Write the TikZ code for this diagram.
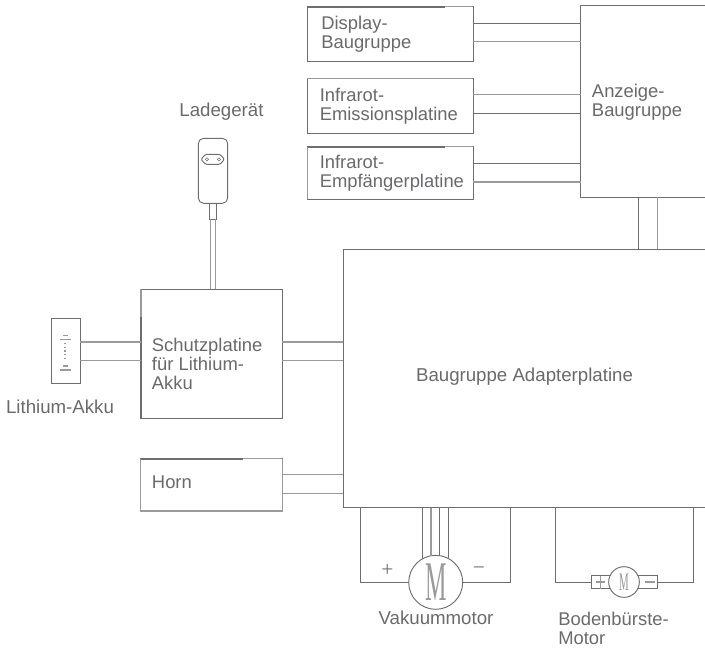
\documentclass[tikz,border=0pt]{standalone}
\usepackage{fontspec}
\setmainfont{Liberation Sans}
\newfontfamily\serifM{Liberation Serif}
\definecolor{ln}{HTML}{6E6E70}
\definecolor{lnl}{HTML}{9A9A9C}
\definecolor{tx}{HTML}{6A6A6C}
\tikzset{
  wire/.style={draw=ln,line width=0.7pt},
  wirel/.style={draw=lnl,line width=0.8pt},
  dark/.style={draw=ln,line width=1.3pt},
  box/.style={draw=ln,line width=0.7pt,fill=white,inner sep=0pt,outer sep=0pt,rectangle,anchor=north west},
  lab/.style={text=tx,font=\fontsize{13.8}{13.8}\selectfont,align=left,inner sep=0pt,anchor=west},
  labc/.style={text=tx,font=\fontsize{14}{14}\selectfont,inner sep=0pt},
  sign/.style={text=ln,font=\fontsize{16}{16}\serifM,inner sep=0pt},
  motor/.style={draw=ln,line width=0.7pt,fill=white,circle,inner sep=0pt,outer sep=0pt},
}
\newcommand{\bx}[5]{\node[box,minimum width={(#4-#2)*0.75pt},minimum height={(#5-#3)*0.75pt}] (#1) at (#2,#3) {};}
\begin{document}
\begin{tikzpicture}[x=0.75pt,y=-0.75pt]
\useasboundingbox (0,0) rectangle (705,647);
% boxes
\bx{disp}{307.3}{6.7}{473.3}{61.3}
\bx{emis}{307.3}{78.7}{473.3}{133.3}
\bx{empf}{307.7}{146.7}{473.3}{199.3}
\bx{anz}{580.7}{5.3}{720}{197.3}
\bx{adapt}{343.3}{249}{720}{507.5}
\bx{schutz}{141}{289}{282.3}{418.7}
\bx{akku}{51.3}{318.7}{80}{383.3}
\bx{horn}{140.7}{458.7}{282.3}{511}
% dark / light edges
\draw[dark] (307.3,6.7) -- (445,6.7);
\draw[wirel] (445,6.7) -- (473.3,6.7);
\draw[wirel] (307.3,78.7) -- (473.3,78.7);
\draw[dark] (307.7,146.7) -- (445,146.7);
\draw[wirel] (445,146.7) -- (473.3,146.7);
\draw[wirel] (307.7,146.7) -- (307.7,199.3);
\draw[dark] (141,316.7) -- (141,418.7);
\draw[wirel] (141,289) -- (141,316.7);
\draw[dark] (140.7,458.7) -- (242.7,458.7);
\draw[wirel] (242.7,458.7) -- (282.3,458.7);
\draw[wirel] (140.7,458.7) -- (140.7,511) -- (282.3,511) -- (282.3,458.7);
% connectors
\draw[wire] (disp.east |- 0,23.3) -- (anz.west |- 0,23.3);
\draw[wirel] (disp.east |- 0,41.7) -- (anz.west |- 0,41.7);
\draw[wirel] (emis.east |- 0,94.7) -- (anz.west |- 0,94.7);
\draw[wire] (emis.east |- 0,113.3) -- (anz.west |- 0,113.3);
\draw[wire] (empf.east |- 0,163.3) -- (anz.west |- 0,163.3);
\draw[wirel] (empf.east |- 0,182) -- (anz.west |- 0,182);
\draw[wire] (anz.south -| 638.7,0) -- (adapt.north -| 638.7,0);
\draw[wirel] (anz.south -| 657.3,0) -- (adapt.north -| 657.3,0);
\draw[wirel] (akku.east |- 0,342) -- (schutz.west |- 0,342);
\draw[wirel] (akku.east |- 0,360.7) -- (schutz.west |- 0,360.7);
\draw[wirel] (schutz.east |- 0,342) -- (adapt.west |- 0,342);
\draw[wirel] (schutz.east |- 0,360.7) -- (adapt.west |- 0,360.7);
\draw[wirel] (horn.east |- 0,474.7) -- (adapt.west |- 0,474.7);
\draw[wirel] (horn.east |- 0,493.7) -- (adapt.west |- 0,493.7);
% motors
\node[motor,minimum size=40.5pt] (vac) at (435.7,582.3) {};
\draw[wire] (adapt.south -| 360,0) |- (vac.west);
\draw[wire] (adapt.south -| 510.7,0) |- (vac.east);
\foreach \X/\Y/\C in {422.3/559/wire,431/555.7/wirel,439.7/555.6/wire,448.3/558.4/wire}{
  \draw[\C] (adapt.south -| \X,0) -- (\X,\Y);
}
\node[inner sep=0pt,text=lnl,font=\fontsize{42}{42}\serifM] (mv) at (435.7,582) {\scalebox{0.43}[1]{M}};
\node[sign] (pl) at (387.3,570.5) {+};
\node[sign] (mi) at (479,570.5) {−};
% small motor
\coordinate (bl) at (591.7,575.7);
\coordinate (br) at (657.7,588.7);
\draw[wire] (bl) rectangle (br);
\node[motor,minimum size=23pt] (brush) at (624,582) {};
\node[inner sep=0pt,text=lnl,font=\fontsize{19}{19}\serifM] (mb) at (624,582) {\scalebox{0.43}[1]{M}};
\draw[wire] (adapt.south -| 555,0) |- (bl |- brush);
\draw[wire] (adapt.south -| 693.7,0) |- (br |- brush);
\draw[wirel] (596,582) -- (605,582) (600.5,576) -- (600.5,588.5) (645,582) -- (655,582);
% charger
\draw[wire,rounded corners=4pt] (198.3,138.3) rectangle (227.7,203.3);
\draw[wire,rounded corners=1pt] (201,159.3) -- (205.5,154.3) -- (220,154.3) -- (224.5,159.3) -- (220,164.3) -- (205.5,164.3) -- cycle;
\draw[wire,line width=0.4pt] (207,159.3) circle (1.6) (219,159.3) circle (1.6);
\draw[wire] (209.3,203.3) rectangle (216.7,219.3);
\draw[wirel] (210.7,219.3) -- (210.7,289);
\draw[wirel] (215.3,219.3) -- (215.3,289);
% battery symbol
\draw[wirel] (62.7,335.7) -- (68,335.7) (59.5,339.5) -- (71,339.5) (62.7,366) -- (68,366) (59.5,370) -- (71,370);
\draw[lnl,line width=1.4pt,dash pattern=on 0.9pt off 1.85pt] (65.3,343) -- (65.3,359);
% text
\node[lab] (t1) at (321,34.5) {Display-\\[0.4pt]Baugruppe};
\node[lab] (t2) at (319.5,106.5) {Infrarot-\\[0.4pt]Emissionsplatine};
\node[lab] (t3) at (319.5,173) {Infrarot-\\[0.4pt]Empfängerplatine};
\node[lab] (t4) at (591.7,102.5) {Anzeige-\\[0.4pt]Baugruppe};
\node[lab] (t5) at (151.7,364) {Schutzplatine\\[0.4pt]für Lithium-\\[0.4pt]Akku};
\node[lab] (t6) at (151.7,482) {Horn};
\node[labc] (t7) at (524.5,377) {Baugruppe Adapterplatine};
\node[labc] (t8) at (221.5,111.5) {Ladegerät};
\node[labc] (t9) at (60,407) {Lithium-Akku};
\node[labc] (t10) at (436,618) {Vakuummotor};
\node[lab] (t11) at (558,628) {Bodenbürste-\\[0.4pt]Motor};
\end{tikzpicture}
\end{document}
